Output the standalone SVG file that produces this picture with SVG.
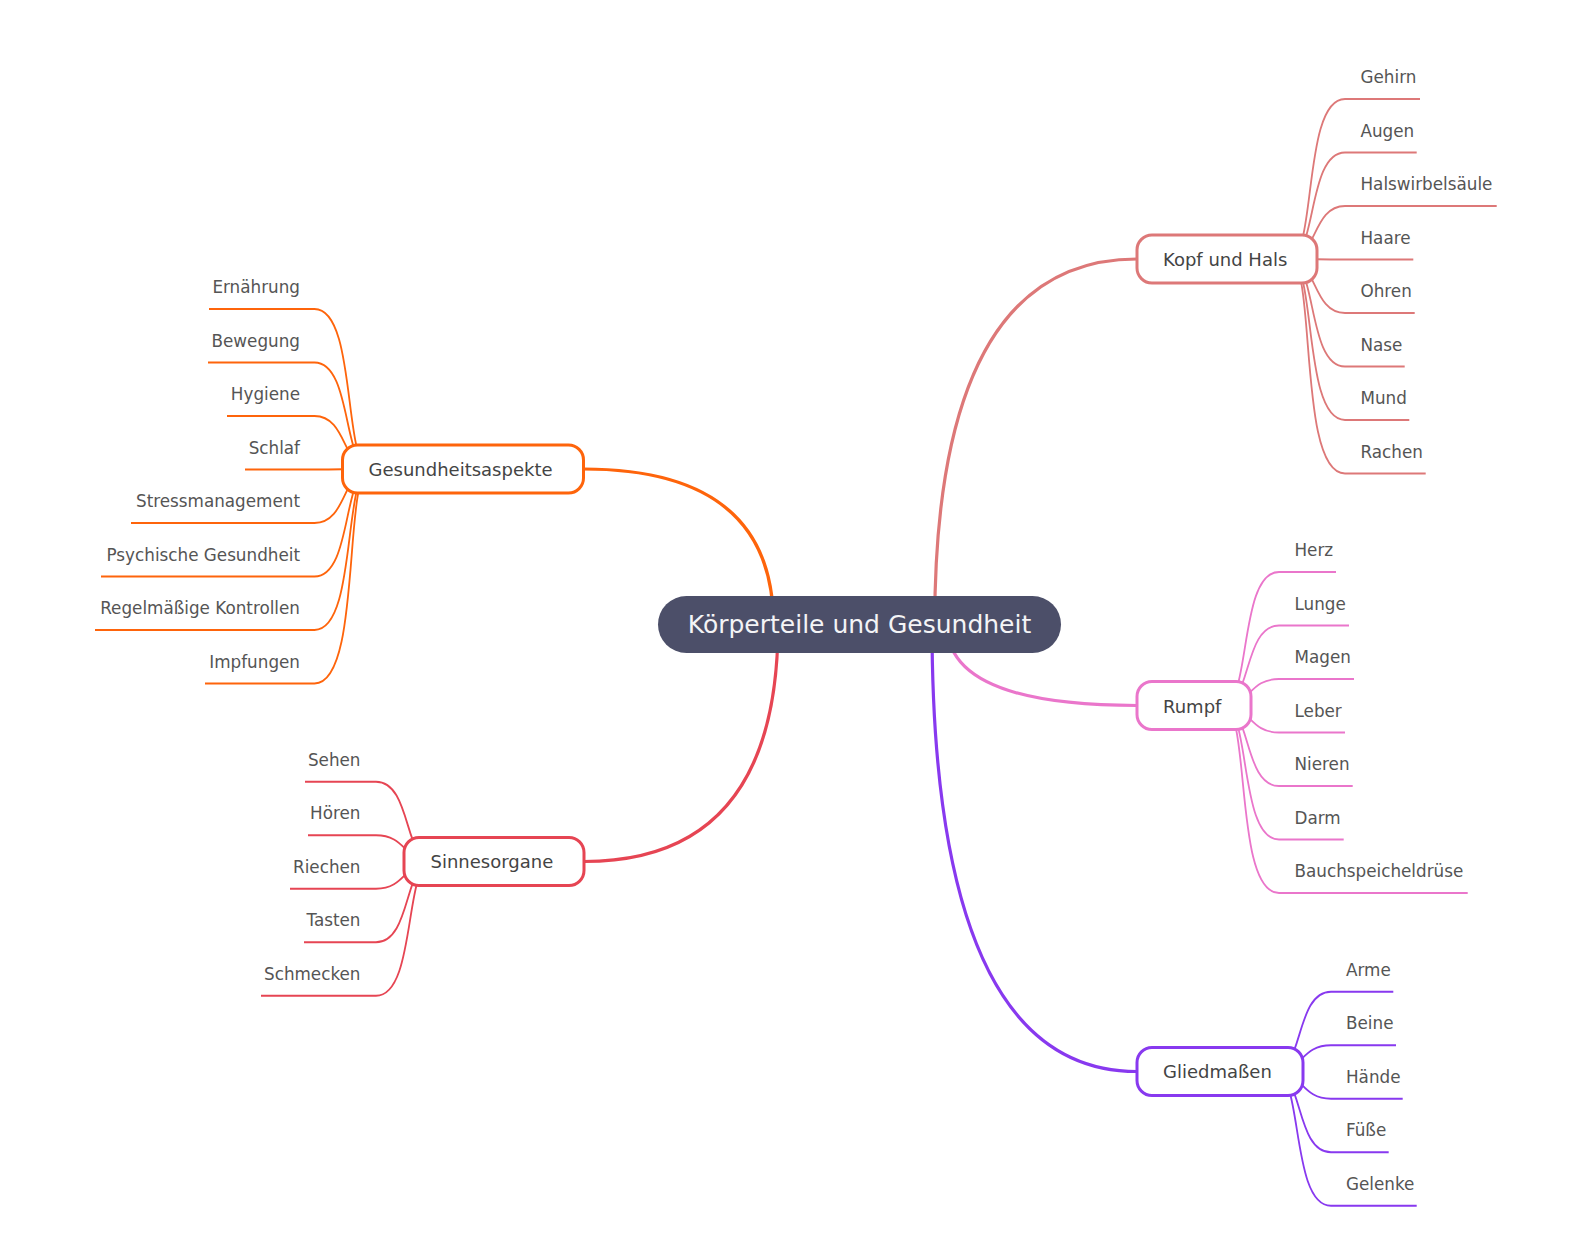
<svg xmlns="http://www.w3.org/2000/svg" width="1592" height="1250" viewBox="0 0 1592 1250">
<style>
.main{fill:none;stroke-width:3.2;stroke-linecap:round}
.leafline{fill:none;stroke-width:1.8}
.sub rect{fill:#ffffff;stroke-width:3}
.sub text{font-family:"DejaVu Sans",sans-serif;font-size:18px;fill:#444444}
.leaf text{font-family:"DejaVu Sans",sans-serif;font-size:16.8px;fill:#555555}
.l text{text-anchor:end}
.c1{stroke:#dd7878}.c2{stroke:#ea76cb}.c3{stroke:#8839ef}.c4{stroke:#fe640b}.c5{stroke:#e64553}
</style>
<rect width="1592" height="1250" fill="#ffffff"/>
<g id="connectors">
<path class="main c1" d="M934.7 624.5 Q934.7 259 1137 259"/>
<path class="main c2" d="M947 624.5 Q947 705.5 1137 705.5"/>
<path class="main c3" d="M932 624.5 Q932 1071.5 1137 1071.5"/>
<path class="main c4" d="M773.5 624.5 Q773.5 469 583.5 469"/>
<path class="main c5" d="M778 624.5 Q778 861.5 584 861.5"/>
<g class="c1">
<path class="leafline" d="M1289 259 C1317 259 1302.1 99 1345 99 H1420"/>
<path class="leafline" d="M1289 259 C1317 259 1307.1 152.5 1345 152.5 H1416.7"/>
<path class="leafline" d="M1289 259 C1317 259 1312.1 206 1345 206 H1496.7"/>
<path class="leafline" d="M1289 259 C1317 259 1317 259.5 1345 259.5 H1413.3"/>
<path class="leafline" d="M1289 259 C1317 259 1312 313 1345 313 H1414.7"/>
<path class="leafline" d="M1289 259 C1317 259 1307 366.5 1345 366.5 H1404.7"/>
<path class="leafline" d="M1289 259 C1317 259 1302 420 1345 420 H1409.3"/>
<path class="leafline" d="M1289 259 C1317 259 1297 473.5 1345 473.5 H1425.7"/>
</g>
<g class="c2">
<path class="leafline" d="M1223 705.5 C1251 705.5 1238.5 572 1279 572 H1336"/>
<path class="leafline" d="M1223 705.5 C1251 705.5 1243.5 625.5 1279 625.5 H1349"/>
<path class="leafline" d="M1223 705.5 C1251 705.5 1248.5 679 1279 679 H1354"/>
<path class="leafline" d="M1223 705.5 C1251 705.5 1248.5 732.5 1279 732.5 H1345"/>
<path class="leafline" d="M1223 705.5 C1251 705.5 1243.5 786 1279 786 H1352.7"/>
<path class="leafline" d="M1223 705.5 C1251 705.5 1238.5 839.5 1279 839.5 H1343.7"/>
<path class="leafline" d="M1223 705.5 C1251 705.5 1233.5 893 1279 893 H1467.7"/>
</g>
<g class="c3">
<path class="leafline" d="M1275 1071.5 C1303 1071.5 1295.6 991.75 1331 991.75 H1393.3"/>
<path class="leafline" d="M1275 1071.5 C1303 1071.5 1300.5 1045.25 1331 1045.25 H1396"/>
<path class="leafline" d="M1275 1071.5 C1303 1071.5 1300.5 1098.75 1331 1098.75 H1402.7"/>
<path class="leafline" d="M1275 1071.5 C1303 1071.5 1295.5 1152.25 1331 1152.25 H1388.7"/>
<path class="leafline" d="M1275 1071.5 C1303 1071.5 1290.5 1205.75 1331 1205.75 H1416.7"/>
</g>
<g class="c4">
<path class="leafline" d="M370.5 469 C342.5 469 357.4 309 314.5 309 H209"/>
<path class="leafline" d="M370.5 469 C342.5 469 352.4 362.5 314.5 362.5 H208"/>
<path class="leafline" d="M370.5 469 C342.5 469 347.4 416 314.5 416 H227"/>
<path class="leafline" d="M370.5 469 C342.5 469 342.5 469.5 314.5 469.5 H245"/>
<path class="leafline" d="M370.5 469 C342.5 469 347.5 523 314.5 523 H131"/>
<path class="leafline" d="M370.5 469 C342.5 469 352.5 576.5 314.5 576.5 H101"/>
<path class="leafline" d="M370.5 469 C342.5 469 357.5 630 314.5 630 H95"/>
<path class="leafline" d="M370.5 469 C342.5 469 362.5 683.5 314.5 683.5 H205"/>
</g>
<g class="c5">
<path class="leafline" d="M432 861.5 C404 861.5 411.4 781.75 376 781.75 H305"/>
<path class="leafline" d="M432 861.5 C404 861.5 406.5 835.25 376 835.25 H308"/>
<path class="leafline" d="M432 861.5 C404 861.5 406.5 888.75 376 888.75 H290"/>
<path class="leafline" d="M432 861.5 C404 861.5 411.5 942.25 376 942.25 H304"/>
<path class="leafline" d="M432 861.5 C404 861.5 416.5 995.75 376 995.75 H261"/>
</g>
</g>
<g id="root">
<rect x="658" y="596" width="403" height="57" rx="28.5" fill="#4c4f69"/>
<text x="859.5" y="632.7" text-anchor="middle" font-family="DejaVu Sans, sans-serif" font-size="25" fill="#f4f4f6">Körperteile und Gesundheit</text>
</g>
<g id="kopf" class="sub"><rect class="c1" x="1137" y="235" width="180" height="48" rx="15"/><text x="1163" y="266">Kopf und Hals</text></g>
<g id="rumpf" class="sub"><rect class="c2" x="1137" y="681.5" width="114" height="48" rx="15"/><text x="1163" y="712.5">Rumpf</text></g>
<g id="glied" class="sub"><rect class="c3" x="1137" y="1047.5" width="166" height="48" rx="15"/><text x="1163" y="1078">Gliedmaßen</text></g>
<g id="gesund" class="sub"><rect class="c4" x="342.5" y="445" width="241" height="48" rx="15"/><text x="368.5" y="476">Gesundheitsaspekte</text></g>
<g id="sinne" class="sub"><rect class="c5" x="404" y="837.5" width="180" height="48" rx="15"/><text x="430.5" y="868">Sinnesorgane</text></g>
<g id="leaves-kopf" class="leaf">
<g id="gehirn"><text x="1360.5" y="83">Gehirn</text></g>
<g id="augen"><text x="1360.5" y="136.5">Augen</text></g>
<g id="halswirbelsaeule"><text x="1360.5" y="190">Halswirbelsäule</text></g>
<g id="haare"><text x="1360.5" y="243.5">Haare</text></g>
<g id="ohren"><text x="1360.5" y="297">Ohren</text></g>
<g id="nase"><text x="1360.5" y="350.5">Nase</text></g>
<g id="mund"><text x="1360.5" y="404">Mund</text></g>
<g id="rachen"><text x="1360.5" y="457.5">Rachen</text></g>
</g>
<g id="leaves-rumpf" class="leaf">
<g id="herz"><text x="1294.5" y="556">Herz</text></g>
<g id="lunge"><text x="1294.5" y="609.5">Lunge</text></g>
<g id="magen"><text x="1294.5" y="663">Magen</text></g>
<g id="leber"><text x="1294.5" y="716.5">Leber</text></g>
<g id="nieren"><text x="1294.5" y="770">Nieren</text></g>
<g id="darm"><text x="1294.5" y="823.5">Darm</text></g>
<g id="bauch"><text x="1294.5" y="877">Bauchspeicheldrüse</text></g>
</g>
<g id="leaves-glied" class="leaf">
<g id="arme"><text x="1346" y="975.75">Arme</text></g>
<g id="beine"><text x="1346" y="1029.25">Beine</text></g>
<g id="haende"><text x="1346" y="1082.75">Hände</text></g>
<g id="fuesse"><text x="1346" y="1136.25">Füße</text></g>
<g id="gelenke"><text x="1346" y="1189.75">Gelenke</text></g>
</g>
<g id="leaves-gesund" class="leaf l">
<g id="ernaehrung"><text x="300" y="293">Ernährung</text></g>
<g id="bewegung"><text x="300" y="346.5">Bewegung</text></g>
<g id="hygiene"><text x="300" y="400">Hygiene</text></g>
<g id="schlaf"><text x="300" y="453.5">Schlaf</text></g>
<g id="stress"><text x="300" y="507">Stressmanagement</text></g>
<g id="psych"><text x="300" y="560.5">Psychische Gesundheit</text></g>
<g id="kontrollen"><text x="300" y="614">Regelmäßige Kontrollen</text></g>
<g id="impfungen"><text x="300" y="667.5">Impfungen</text></g>
</g>
<g id="leaves-sinne" class="leaf l">
<g id="sehen"><text x="360.5" y="765.75">Sehen</text></g>
<g id="hoeren"><text x="360.5" y="819.25">Hören</text></g>
<g id="riechen"><text x="360.5" y="872.75">Riechen</text></g>
<g id="tasten"><text x="360.5" y="926.25">Tasten</text></g>
<g id="schmecken"><text x="360.5" y="979.75">Schmecken</text></g>
</g>
</svg>
